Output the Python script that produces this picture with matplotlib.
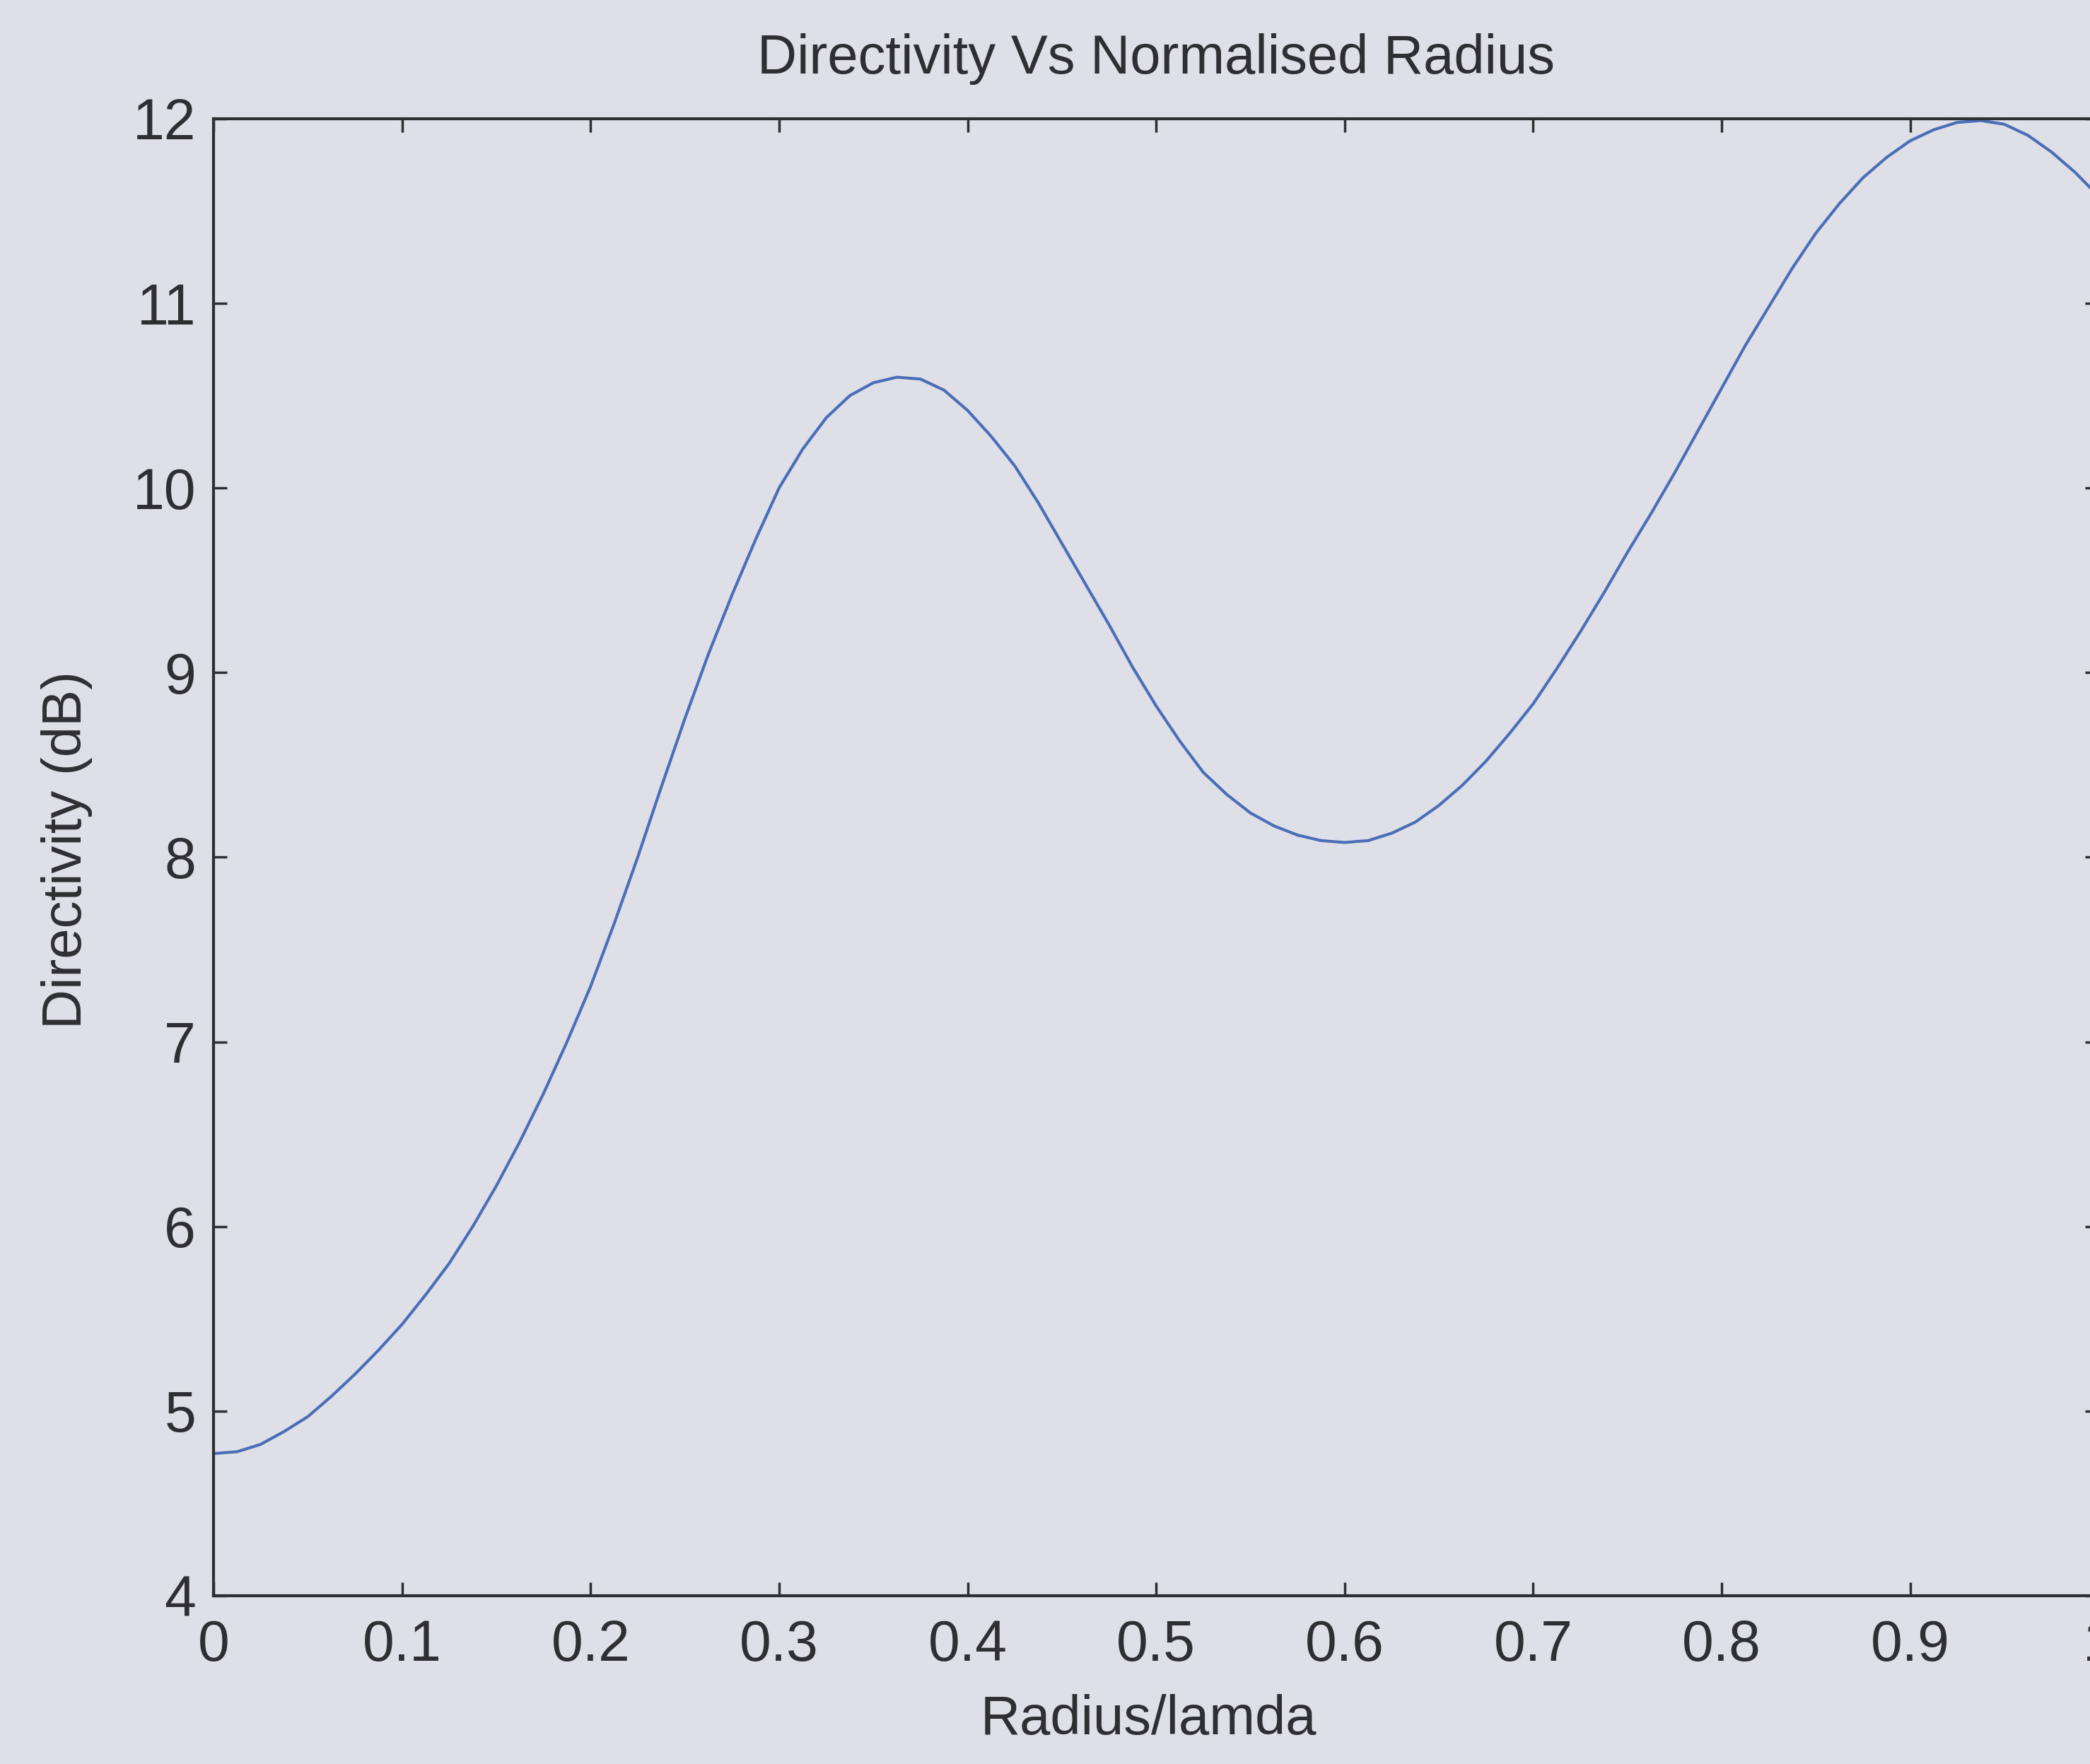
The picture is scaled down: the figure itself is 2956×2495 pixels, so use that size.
import matplotlib
matplotlib.use("Agg")
import matplotlib.pyplot as plt

# Data
radius_lamda = [0.0, 0.0125, 0.025, 0.0375, 0.05, 0.0625, 0.075, 0.0875, 0.1, 0.1125,
                0.125, 0.1375, 0.15, 0.1625, 0.175, 0.1875, 0.2, 0.2125, 0.225, 0.2375,
                0.25, 0.2625, 0.275, 0.2875, 0.3, 0.3125, 0.325, 0.3375, 0.35, 0.3625,
                0.375, 0.3875, 0.4, 0.4125, 0.425, 0.4375, 0.45, 0.4625, 0.475, 0.4875,
                0.5, 0.5125, 0.525, 0.5375, 0.55, 0.5625, 0.575, 0.5875, 0.6, 0.6125,
                0.625, 0.6375, 0.65, 0.6625, 0.675, 0.6875, 0.7, 0.7125, 0.725, 0.7375,
                0.75, 0.7625, 0.775, 0.7875, 0.8, 0.8125, 0.825, 0.8375, 0.85, 0.8625,
                0.875, 0.8875, 0.9, 0.9125, 0.925, 0.9375, 0.95, 0.9625, 0.975, 0.9875, 1.0]
directivity_db = [4.77, 4.78, 4.82, 4.89, 4.97, 5.08, 5.20, 5.33, 5.47, 5.63,
                  5.80, 6.00, 6.22, 6.46, 6.72, 7.00, 7.30, 7.64, 8.00, 8.38,
                  8.75, 9.10, 9.42, 9.72, 10.00, 10.21, 10.38, 10.50, 10.57, 10.60,
                  10.59, 10.53, 10.42, 10.28, 10.12, 9.92, 9.70, 9.48, 9.26, 9.03,
                  8.82, 8.63, 8.46, 8.34, 8.24, 8.17, 8.12, 8.09, 8.08, 8.09,
                  8.13, 8.19, 8.28, 8.39, 8.52, 8.67, 8.83, 9.02, 9.22, 9.43,
                  9.65, 9.86, 10.08, 10.31, 10.54, 10.77, 10.98, 11.19, 11.38, 11.54,
                  11.68, 11.79, 11.88, 11.94, 11.98, 11.99, 11.97, 11.91, 11.82, 11.71, 11.58]

x_ticks = [0, 0.1, 0.2, 0.3, 0.4, 0.5, 0.6, 0.7, 0.8, 0.9, 1.0]
x_tick_labels = ["0", "0.1", "0.2", "0.3", "0.4", "0.5", "0.6", "0.7", "0.8", "0.9", "1"]
y_ticks = [4, 5, 6, 7, 8, 9, 10, 11, 12]
y_tick_labels = ["4", "5", "6", "7", "8", "9", "10", "11", "12"]

title_text = "Directivity Vs Normalised Radius"
x_label = "Radius/lamda"
y_label = "Directivity (dB)"

bg = "#dfe0e7"
ink = "#2e2e33"
line_color = "#4a6fb8"

plt.rcParams["font.family"] = ["Liberation Sans", "DejaVu Sans"]

fig = plt.figure(figsize=(29.56, 24.95), dpi=100, facecolor=bg)
ax = fig.add_axes([0.1022, 0.0954, 0.9019, 0.8373])
ax.set_facecolor(bg)

ax.plot(radius_lamda, directivity_db, color=line_color, lw=3.0,
        solid_joinstyle="round", solid_capstyle="round")

ax.set_xlim(0, 1)
ax.set_ylim(4, 12)
ax.set_xticks(x_ticks)
ax.set_xticklabels(x_tick_labels)
ax.set_yticks(y_ticks)
ax.set_yticklabels(y_tick_labels)

for s in ax.spines.values():
    s.set_color(ink)
    s.set_linewidth(3.0)

ax.tick_params(axis="both", which="major", direction="in", length=14, width=2.5,
               colors=ink, labelsize=58, top=True, right=True)
ax.tick_params(axis="x", pad=24)
ax.tick_params(axis="y", pad=18)

ax.set_title(title_text, fontsize=56, color=ink, pad=46)
ax.set_xlabel(x_label, fontsize=56, color=ink, va="center")
ax.set_ylabel(y_label, fontsize=56, color=ink)
ax.xaxis.set_label_coords(0.496, -0.084)
ax.yaxis.set_label_coords(-0.064, 0.505)

fig.savefig("out.png", dpi=100, facecolor=bg)
